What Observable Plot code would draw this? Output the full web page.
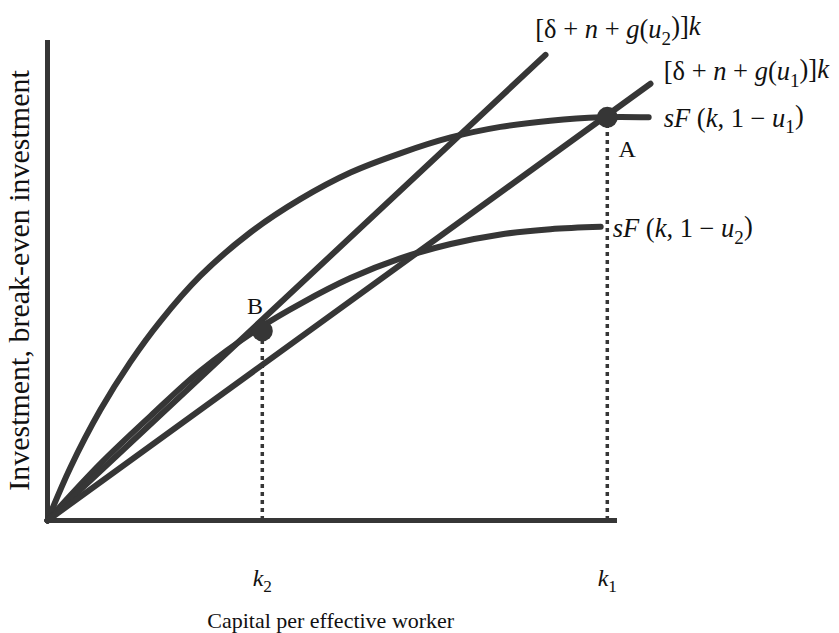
<!DOCTYPE html>
<html>
<head>
<meta charset="utf-8">
<script src="https://cdn.jsdelivr.net/npm/d3@7"></script>
<script src="https://cdn.jsdelivr.net/npm/@observablehq/plot@0.6"></script>
<style>
  html, body { margin: 0; padding: 0; background: #fff; }
  svg text { font-family: "Liberation Serif", "DejaVu Serif", serif; }
</style>
</head>
<body>
<div id="chart"></div>
<script>
// ---- data (abstract units) ----
const k2 = 35.8;             // steady state with u2
const k1 = 93.3;             // steady state with u1
const yA = 84;               // investment at A
const yB = 39.5;             // investment at B

// sF(k, 1-u1) curve
const sF1_k = [0, 3.8, 8.8, 13.8, 18.8, 25.5, 33.8, 42.2, 50.5, 58.8, 67.2, 75.5, 83.8, 92.2, 100.2];
const sF1_y = [0, 11, 23, 33, 41.5, 51, 60, 67, 72.5, 76.5, 79.8, 82, 83.3, 84, 84];

// sF(k, 1-u2) curve
const sF2_k = [0, 8.8, 17.2, 25.5, 35.8, 42.2, 50.5, 58.8, 67.2, 75.5, 83.8, 92.2];
const sF2_y = [0, 11.8, 21.8, 31.2, 40.5, 45.2, 50.5, 54.6, 57.6, 59.6, 60.7, 61.2];

// break-even lines (start, end)
const line_u2_k = [0, 83];
const line_u2_y = [0, 97];
const line_u1_k = [0, 100.5];
const line_u1_y = [0, 91];

// axes extent
const xAxisEnd = 95;
const yAxisEnd = 100;

// labels
const tickK = [k2, k1];
const tickText = ["*k*_2", "*k*_1"];
const curveLabels = [
  {x: 81.3, y: 102.3, text: "[δ + *n* + *g*(*u*_2)]*k*"},
  {x: 102.7, y: 93.5, text: "[δ + *n* + *g*(*u*_1)]*k*"},
  {x: 102.7, y: 83.8, text: "*sF* (*k*, 1 − *u*_1)"},
  {x: 94.2, y: 60.8, text: "*sF* (*k*, 1 − *u*_2)"}
];
const pointLabels = [
  {x: 96.6, y: 77.4, text: "A"},
  {x: 34.6, y: 44.6, text: "B"}
];
const xTitle = "Capital per effective worker";
const yTitle = "Investment, break-even investment";

// ---- build tables ----
const sF1 = sF1_k.map((k, i) => ({k, y: sF1_y[i]}));
const sF2 = sF2_k.map((k, i) => ({k, y: sF2_y[i]}));
const u2 = line_u2_k.map((k, i) => ({k, y: line_u2_y[i]}));
const u1 = line_u1_k.map((k, i) => ({k, y: line_u1_y[i]}));
const eq = [{k: k1, y: yA}, {k: k2, y: yB}];

const ink = "#363636";
const W = 839, H = 633;

const plot = Plot.plot({
  width: W,
  height: H,
  x: {domain: [0, 100], range: [47, 647], axis: null},
  y: {domain: [0, 100], range: [520, 40], axis: null},
  marks: [
    // dotted verticals
    Plot.ruleX(eq, {x: "k", y1: 0, y2: "y", stroke: ink, strokeWidth: 3.5, strokeDasharray: "4,4"}),
    // axes
    Plot.ruleX([0], {y1: 0, y2: yAxisEnd, stroke: ink, strokeWidth: 5}),
    Plot.ruleY([0], {x1: 0, x2: xAxisEnd, stroke: ink, strokeWidth: 5}),
    // curves and lines
    Plot.line(sF1, {x: "k", y: "y", curve: "catmull-rom", stroke: ink, strokeWidth: 6}),
    Plot.line(sF2, {x: "k", y: "y", curve: "catmull-rom", stroke: ink, strokeWidth: 6}),
    Plot.line(u2, {x: "k", y: "y", stroke: ink, strokeWidth: 6}),
    Plot.line(u1, {x: "k", y: "y", stroke: ink, strokeWidth: 6}),
    // equilibrium dots
    Plot.dot(eq, {x: "k", y: "y", r: 10.5, fill: ink}),
    // labels
    Plot.text(curveLabels, {x: "x", y: "y", text: "text", textAnchor: "start", fontSize: 26.5, fill: "#111", className: "rich"}),
    Plot.text(pointLabels, {x: "x", y: "y", text: "text", textAnchor: "middle", fontSize: 24, fill: "#111"}),
    Plot.text(tickK, {x: d => d, y: -12, text: (d, i) => tickText[i], fontSize: 24, fill: "#111", className: "rich"}),
    Plot.text([xTitle], {x: 47.2, y: -21, text: d => d, fontSize: 22, fill: "#111"}),
    Plot.text([yTitle], {x: -4.7, y: 50, text: d => d, rotate: -90, fontSize: 30, fill: "#111"})
  ]
});

// rich text: *italic* and _subscript
function rich(el) {
  const s = el.textContent;
  while (el.firstChild) el.removeChild(el.firstChild);
  const parts = s.split(/(\*[^*]+\*|_\d)/).filter(p => p.length);
  let shifted = false;
  const ns = "http://www.w3.org/2000/svg";
  for (const p of parts) {
    const t = document.createElementNS(ns, "tspan");
    if (p.startsWith("_")) {
      t.textContent = p.slice(1);
      t.setAttribute("font-size", "0.72em");
      t.setAttribute("dy", "0.35em");
      shifted = true;
    } else {
      if (p.startsWith("*")) {
        t.textContent = p.slice(1, -1);
        t.setAttribute("font-style", "italic");
      } else {
        t.textContent = p;
      }
      if (shifted) { t.setAttribute("dy", "-0.35em"); shifted = false; }
    }
    el.appendChild(t);
  }
}
d3.select(plot).selectAll("g.rich text").each(function() { rich(this); });

document.getElementById("chart").appendChild(plot);
</script>
</body>
</html>
